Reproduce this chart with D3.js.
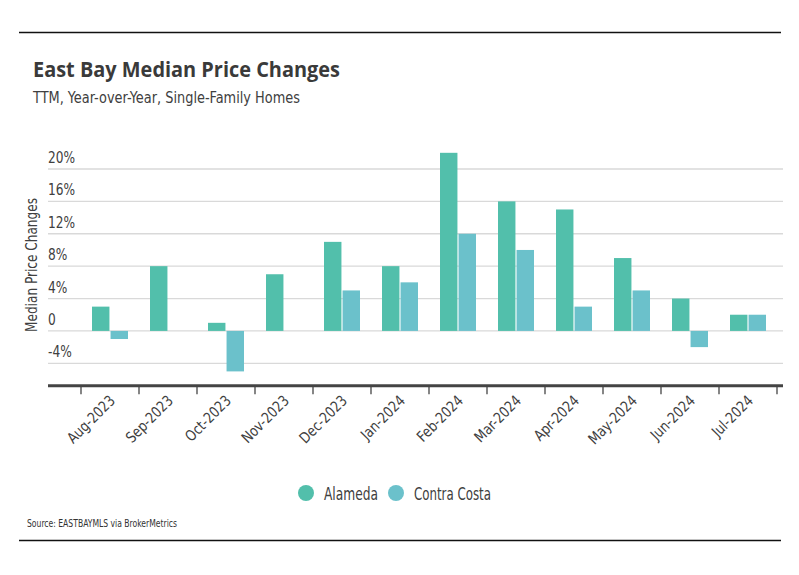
<!DOCTYPE html>
<html>
<head>
<meta charset="utf-8">
<script src="https://cdn.jsdelivr.net/npm/d3@7"></script>
<style>
    body { margin: 0; background: #fff; }
    svg { display: block; }
    .narrow { font-family: "DejaVu Sans Condensed", "DejaVu Sans", sans-serif; }
</style>
</head>
<body>
<div id="chart"></div>
<script>
// data
const months = ['Aug-2023', 'Sep-2023', 'Oct-2023', 'Nov-2023', 'Dec-2023', 'Jan-2024',
    'Feb-2024', 'Mar-2024', 'Apr-2024', 'May-2024', 'Jun-2024', 'Jul-2024'];
const seriesNames = ['Alameda', 'Contra Costa'];
const alameda = [3, 8, 1, 7, 11, 8, 22, 16, 15, 9, 4, 2];
const contraCosta = [-1, 0, -5, 0, 5, 6, 12, 10, 3, 5, -2, 2];
const yTicks = [-4, 0, 4, 8, 12, 16, 20];
const yTickLabels = ['-4%', '0', '4%', '8%', '12%', '16%', '20%'];
const colors = ['#52bfab', '#6bc1cb'];

const WIDTH = 799;
const HEIGHT = 575;
const TEXT = '#404040';

// no narrow font installed, so squeeze the condensed one a bit
function squeeze(sel, factor) {
    sel.each(function() {
        const len = this.getComputedTextLength();
        d3.select(this)
            .attr('textLength', len * factor)
            .attr('lengthAdjust', 'spacingAndGlyphs');
    });
}

const svg = d3.select('#chart').append('svg')
    .attr('width', WIDTH)
    .attr('height', HEIGHT);

// rules top and bottom
svg.append('line').attr('x1', 19).attr('x2', 781).attr('y1', 32.5).attr('y2', 32.5)
    .attr('stroke', '#111').attr('stroke-width', 1.3);
svg.append('line').attr('x1', 19).attr('x2', 781).attr('y1', 540.5).attr('y2', 540.5)
    .attr('stroke', '#111').attr('stroke-width', 1.3);

// titles
svg.append('text')
    .attr('x', 33).attr('y', 77)
    .attr('font-family', '"Open Sans", sans-serif')
    .attr('font-weight', 'bold')
    .attr('font-size', 22)
    .attr('fill', '#3a3a3a')
    .attr('textLength', 307)
    .attr('lengthAdjust', 'spacingAndGlyphs')
    .text('East Bay Median Price Changes');

svg.append('text')
    .attr('class', 'narrow')
    .attr('x', 33).attr('y', 103)
    .attr('font-size', 15.5)
    .attr('fill', TEXT)
    .attr('textLength', 267)
    .attr('lengthAdjust', 'spacingAndGlyphs')
    .text('TTM, Year-over-Year, Single-Family Homes');

// scales
const x = d3.scaleBand()
    .domain(months)
    .range([81, 777])
    .padding(0);

const xInner = d3.scaleBand()
    .domain(seriesNames)
    .range([11, 47])
    .paddingInner(0.06);

const y = d3.scaleLinear()
    .domain([-4, 20])
    .range([363.3, 169]);

// gridlines
svg.append('g')
    .selectAll('line')
    .data(yTicks)
    .join('line')
        .attr('x1', 48)
        .attr('x2', 783)
        .attr('y1', d => y(d))
        .attr('y2', d => y(d))
        .attr('stroke', '#d9d9d9')
        .attr('stroke-width', 1.3);

// y tick labels sit above their gridline
svg.append('g')
    .selectAll('text')
    .data(yTicks)
    .join('text')
        .attr('class', 'narrow')
        .attr('x', 48)
        .attr('y', d => y(d) - 6)
        .attr('font-size', 16.5)
        .attr('fill', TEXT)
        .text((d, i) => yTickLabels[i])
        .call(squeeze, 0.82);

svg.append('text')
    .attr('class', 'narrow')
    .attr('transform', 'translate(37,265) rotate(-90)')
    .attr('text-anchor', 'middle')
    .attr('font-size', 15.5)
    .attr('fill', TEXT)
    .attr('textLength', 134)
    .attr('lengthAdjust', 'spacingAndGlyphs')
    .text('Median Price Changes');

// bars
const rows = months.map((m, i) => ({ month: m, values: [alameda[i], contraCosta[i]] }));

svg.append('g')
    .selectAll('g')
    .data(rows)
    .join('g')
        .attr('transform', d => 'translate(' + x(d.month) + ',0)')
    .selectAll('rect')
    .data(d => d.values.map((v, i) => ({ key: seriesNames[i], value: v, color: colors[i] })))
    .join('rect')
        .attr('x', d => xInner(d.key))
        .attr('width', xInner.bandwidth())
        .attr('y', d => y(Math.max(0, d.value)))
        .attr('height', d => Math.abs(y(d.value) - y(0)))
        .attr('fill', d => d.color);

// x axis: boundary ticks, labels at band centers
const axisY = 385.7;
const axisG = svg.append('g');
axisG.append('line')
    .attr('x1', 48).attr('x2', 783)
    .attr('y1', axisY).attr('y2', axisY)
    .attr('stroke', '#444').attr('stroke-width', 3);

const boundaries = months.map(m => x(m)).concat([x.range()[1]]);
axisG.selectAll('line.tick')
    .data(boundaries)
    .join('line')
        .attr('class', 'tick')
        .attr('x1', d => d).attr('x2', d => d)
        .attr('y1', axisY).attr('y2', axisY + 8.5)
        .attr('stroke', '#444').attr('stroke-width', 1.3);

axisG.selectAll('text')
    .data(months)
    .join('text')
        .attr('class', 'narrow')
        .attr('transform', d => 'translate(' + (x(d) + x.bandwidth() / 2 + 6) + ',' + (axisY + 16) + ') rotate(-45)')
        .attr('text-anchor', 'end')
        .attr('font-size', 15)
        .attr('fill', TEXT)
        .text(d => d)
        .call(squeeze, 0.92);

// legend
const legendItems = [
    { name: seriesNames[0], color: colors[0], cx: 306, tx: 324, w: 54 },
    { name: seriesNames[1], color: colors[1], cx: 396, tx: 414, w: 77 }
];
const legend = svg.append('g');
legend.selectAll('circle')
    .data(legendItems)
    .join('circle')
        .attr('cx', d => d.cx)
        .attr('cy', 493)
        .attr('r', 8)
        .attr('fill', d => d.color);
legend.selectAll('text')
    .data(legendItems)
    .join('text')
        .attr('class', 'narrow')
        .attr('x', d => d.tx)
        .attr('y', 499.5)
        .attr('font-size', 17.5)
        .attr('fill', TEXT)
        .attr('textLength', d => d.w)
        .attr('lengthAdjust', 'spacingAndGlyphs')
        .text(d => d.name);

// source
svg.append('text')
    .attr('class', 'narrow')
    .attr('x', 27).attr('y', 527)
    .attr('font-size', 10.5)
    .attr('fill', '#333')
    .attr('textLength', 150)
    .attr('lengthAdjust', 'spacingAndGlyphs')
    .text('Source:  EASTBAYMLS via BrokerMetrics');
</script>
</body>
</html>
